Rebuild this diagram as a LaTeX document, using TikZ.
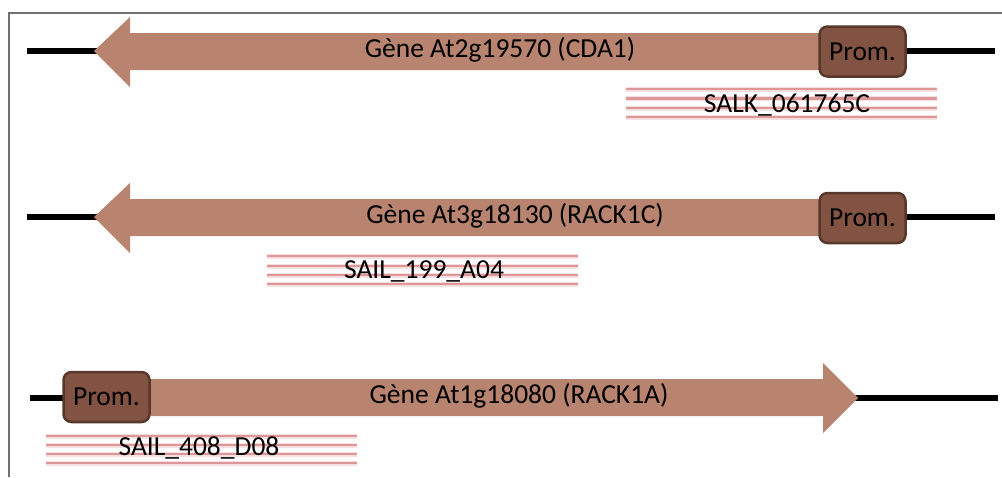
\documentclass[tikz,border=0pt]{standalone}
\usepackage{fontspec}
\setmainfont{Carlito}
\definecolor{genefill}{RGB}{184,132,112}
\definecolor{promfill}{RGB}{130,83,67}
\definecolor{promdraw}{RGB}{88,56,43}
\definecolor{stripecol}{RGB}{222,150,150}
\definecolor{framecol}{RGB}{112,112,112}
\begin{document}
\begin{tikzpicture}[x=1pt,y=-1pt,
  dna/.style={line width=6pt, black},
  genebody/.style={fill=genefill, draw=none},
  genetext/.style={font=\fontsize{27.5}{31}\selectfont, text=black, inner sep=0pt},
  prom/.style={draw=promdraw, fill=promfill, line width=2.5pt, rounded corners=8pt,
    minimum width=86pt, minimum height=50pt, inner sep=0pt,
    font=\fontsize{27.5}{31}\selectfont, text=black},
  stripehalo/.style={line width=5pt, stripecol, opacity=0.3},
  stripeline/.style={line width=2.2pt, stripecol},
  instext/.style={font=\fontsize{27.5}{31}\selectfont, text=black, inner sep=0pt},
  frameline/.style={line width=2pt, framecol}]
\useasboundingbox (0,0) rectangle (1002,477);
\fill[white] (0,0) rectangle (1002,477);
% frame
\coordinate (fbl) at (9,477);
\coordinate (ftl) at (9,13);
\coordinate (ftr) at (1002,13);
\draw[frameline] (fbl) -- (ftl) -- (ftr);

% ---------- Row 1 ----------
\coordinate (a1) at (27,51);
\coordinate (b1) at (995,51);
\draw[dna] (a1) -- (b1);
\fill[genebody] (94,51) -- (130,17) -- (130,33) -- (830,33) -- (830,70) -- (130,70) -- (130,87) -- cycle;
\node[genetext] (g1) at (500,50) {Gène At2g19570 (CDA1)};
\node[prom] (p1) at (862.5,51.5) {Prom.};
\foreach \yy in {89,98.5,108,117}{
  \draw[stripehalo] (626,\yy) -- (937,\yy);
  \draw[stripeline] (626,\yy) -- (937,\yy);
}
\node[instext] (s1) at (787,105) {SALK\_061765C};

% ---------- Row 2 ----------
\coordinate (a2) at (27,217);
\coordinate (b2) at (995,217);
\draw[dna] (a2) -- (b2);
\fill[genebody] (94,217) -- (130,183) -- (130,199) -- (830,199) -- (830,236) -- (130,236) -- (130,253) -- cycle;
\node[genetext] (g2) at (515,216) {Gène At3g18130 (RACK1C)};
\node[prom] (p2) at (862.5,218) {Prom.};
\foreach \yy in {256,266,275,284}{
  \draw[stripehalo] (267,\yy) -- (578,\yy);
  \draw[stripeline] (267,\yy) -- (578,\yy);
}
\node[instext] (s2) at (424,271) {SAIL\_199\_A04};

% ---------- Row 3 ----------
\coordinate (a3) at (30,398);
\coordinate (b3) at (998,398);
\draw[dna] (a3) -- (b3);
\fill[genebody] (858,398) -- (823,363) -- (823,379) -- (140,379) -- (140,416) -- (823,416) -- (823,433) -- cycle;
\node[genetext] (g3) at (519,396) {Gène At1g18080 (RACK1A)};
\node[prom] (p3) at (106.5,397) {Prom.};
\foreach \yy in {436,445,454,463}{
  \draw[stripehalo] (46,\yy) -- (357,\yy);
  \draw[stripeline] (46,\yy) -- (357,\yy);
}
\node[instext] (s3) at (199,448) {SAIL\_408\_D08};
\end{tikzpicture}
\end{document}
